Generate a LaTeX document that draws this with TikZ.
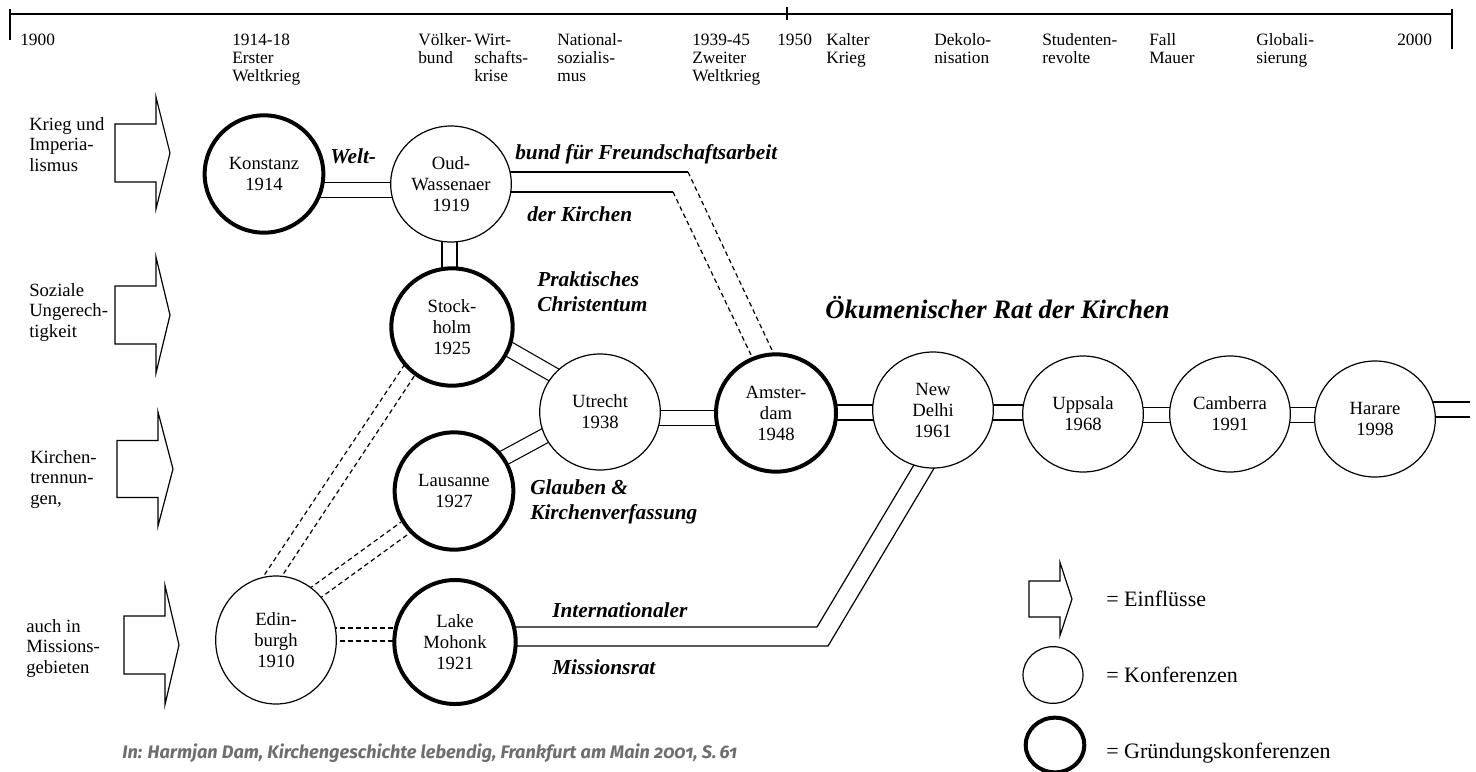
\documentclass[tikz,border=0pt]{standalone}
\usepackage{fontspec}
\setmainfont{Liberation Serif}
\newfontfamily\quellefont[Numbers=OldStyle]{Fira Sans}
\usetikzlibrary{shapes.geometric,calc,backgrounds}
\definecolor{quellgrau}{HTML}{6E6E6E}

\tikzset{
  konf/.style={ellipse, draw, fill=white, line width=0.9pt, inner sep=0pt,
    minimum width=90.5pt, minimum height=87pt, align=center,
    font=\fontsize{14}{15.75}\selectfont},
  gruendung/.style={konf, line width=3pt, minimum width=89pt, minimum height=88pt},
  strang/.style={double, line width=0.9pt, double distance=10.35pt},
  strich/.style={line width=0.9pt, dash pattern=on 3.5pt off 2.5pt},
  epoche/.style={anchor=base west, inner sep=0pt, font=\fontsize{13}{13.8}\selectfont},
  einfluss/.style={anchor=base west, inner sep=0pt, font=\fontsize{14}{15.4}\selectfont},
  bewegung/.style={anchor=base west, inner sep=0pt,
    font=\fontsize{16}{18.75}\selectfont\bfseries\itshape},
  legende/.style={anchor=base west, inner sep=0pt,
    font=\fontsize{16.5}{18}\selectfont},
}

% mehrzeiliger Text, Grundlinie der ersten Zeile
\newcommand{\zeilen}[1]{\begin{tabular}[t]{@{}l@{}}#1\end{tabular}}

% Blockpfeil: links, Kopf, Spitze, Mitte, halbe Schaftbreite, halbe Kopfbreite
\newcommand{\pfeil}[6]{%
  \draw[line width=0.9pt] (#1,{#4-#5}) -- (#2,{#4-#5}) -- (#2,{#4-#6}) -- (#3,#4)
    -- (#2,{#4+#6}) -- (#2,{#4+#5}) -- (#1,{#4+#5}) -- cycle;}

\begin{document}
\begin{tikzpicture}[x=0.75pt, y=-0.75pt]
\useasboundingbox (0,0) rectangle (1476,771);

% Zeitleiste
\draw[line width=1.1pt] (10,14) -- (1452,14);
\draw[line width=0.9pt] (10,9) -- (10,40);
\draw[line width=0.9pt] (1452,9) -- (1452,49);
\draw[line width=0.9pt] (787,7) -- (787,20);
\foreach \xpos/\txt [count=\i] in {20/1900, 232/{1914-18\\Erster\\Weltkrieg},
    418/{Völker-\\bund}, 474/{Wirt-\\schafts-\\krise}, 557/{National-\\sozialis-\\mus},
    692/{1939-45\\Zweiter\\Weltkrieg}, 777/1950, 826/{Kalter\\Krieg},
    934/{Dekolo-\\nisation}, 1042/{Studenten-\\revolte}, 1149/{Fall\\Mauer},
    1256/{Globali-\\sierung}, 1397/2000}
  \node[epoche] (epoche\i) at (\xpos,45) {\zeilen{\txt}};

% Einfluesse
\node[einfluss] (krieg) at (29,130) {\zeilen{Krieg und\\Imperia-\\lismus}};
\node[einfluss] (sozial) at (29,296) {\zeilen{Soziale\\Ungerech-\\tigkeit}};
\node[einfluss] (trennung) at (30,463) {\zeilen{Kirchen-\\trennun-\\gen,}};
\node[einfluss] (mission) at (26,632) {\zeilen{auch in\\Missions-\\gebieten}};
\pfeil{115}{156}{170}{153}{29}{56}
\pfeil{115}{156}{170}{315}{29}{58}
\pfeil{117}{158}{173}{469}{28.5}{57}
\pfeil{124}{165}{179}{645}{29}{59.5}

% Konferenzen
\node[gruendung] (konstanz) at (264,174) {Konstanz\\1914};
\node[konf] (oud) at (451,184) {Oud-\\Wassenaer\\1919};
\node[gruendung, minimum width=91pt] (stockholm) at (452,327) {Stock-\\holm\\1925};
\node[konf] (utrecht) at (600,412) {Utrecht\\1938};
\node[gruendung] (lausanne) at (454,491) {Lausanne\\1927};
\node[gruendung, minimum width=90pt] (amsterdam) at (776,413) {Amster-\\dam\\1948};
\node[konf] (delhi) at (933,410) {New\\Delhi\\1961};
\node[konf] (uppsala) at (1083,414) {Uppsala\\1968};
\node[konf] (camberra) at (1230,414) {Camberra\\1991};
\node[konf] (harare) at (1375,419) {Harare\\1998};
\node[konf, minimum height=96pt] (edinburgh) at (276,640) {Edin-\\burgh\\1910};
\node[gruendung, minimum width=91pt, minimum height=93pt] (mohonk) at (455,642) {Lake\\Mohonk\\1921};

\coordinate (wb1) at (688,172);
\coordinate (wb2) at (673,192);
\coordinate (im1) at (817,627);
\coordinate (im2) at (828,646);
\coordinate (ausblick) at (1470,409.5);

\begin{scope}[on background layer]
\draw[strang] ($(konstanz)+(0,16)$) -- ($(oud)+(0,6)$);
\draw[strang] ($(oud)+(-1.5,0)$) -- ($(stockholm)+(-2.5,0)$);
\draw[strang] ($(stockholm)+(4.5,-8)$) -- ($(utrecht)+(4.5,-8)$);
\draw[strang] ($(lausanne)+(-2.6,-4.7)$) -- ($(utrecht)+(-2.6,-4.7)$);
\draw[strang] ($(utrecht)+(0,6)$) -- ($(amsterdam)+(0,5)$);
\draw[strang] ($(amsterdam)+(0,-0.5)$) -- ($(delhi)+(0,2.5)$);
\draw[strang] ($(delhi)+(0,2.5)$) -- ($(uppsala)+(0,-1.5)$);
\draw[strang] ($(uppsala)+(0,1)$) -- ($(camberra)+(0,1)$);
\draw[strang] ($(camberra)+(0,1)$) -- ($(harare)+(0,-4)$);
\draw[strang] ($(harare)+(0,-9.5)$) -- (ausblick);
% Vorlaeufer (gestrichelt)
\draw[strich] ($(edinburgh)+(0,-12)$) -- ($(mohonk)+(0,-14)$);
\draw[strich] ($(edinburgh)+(0,1)$) -- ($(mohonk)+(0,-1)$);
\draw[strich] ($(edinburgh)+(-15.8,-58.8)$) -- ($(stockholm)+(-46.2,35.8)$);
\draw[strich] ($(edinburgh)+(3.2,-59.8)$) -- ($(stockholm)+(-36.2,46.8)$);
\draw[strich] ($(edinburgh)+(33,-51.1)$) -- ($(lausanne)+(-53,31.1)$);
\draw[strich] ($(edinburgh)+(43,-41.1)$) -- ($(lausanne)+(-43,41.1)$);
% Weltbund
\draw[line width=0.9pt] ($(oud)+(0,-12)$) -- (wb1);
\draw[strich] (wb1) -- ($(amsterdam)+(-0.5,-55.5)$);
\draw[line width=0.9pt] ($(oud)+(0,8)$) -- (wb2);
\draw[strich] (wb2) -- ($(amsterdam)+(-21.4,-50.6)$);
% Missionsrat
\draw[line width=0.9pt] ($(mohonk)+(0,-15)$) -- (im1) -- ($(delhi)+(-17.9,52.9)$);
\draw[line width=0.9pt] ($(mohonk)+(0,4)$) -- (im2) -- ($(delhi)+(3,55)$);
\end{scope}

% Bewegungen
\node[bewegung] (welt) at (330,163) {Welt-};
\node[bewegung] (freundschaft) at (515,159) {bund für Freundschaftsarbeit};
\node[bewegung] (derkirchen) at (527,221) {der Kirchen};
\node[bewegung] (praktisch) at (537,286) {\zeilen{Praktisches\\Christentum}};
\node[bewegung] (glauben) at (530,494) {\zeilen{Glauben \&\\Kirchenverfassung}};
\node[bewegung] (international) at (552,617) {Internationaler};
\node[bewegung] (missionsrat) at (552,674) {Missionsrat};
\node[bewegung, font=\fontsize{20}{24}\selectfont\bfseries\itshape] (oekumene) at (825,318) {Ökumenischer Rat der Kirchen};

% Legende
\pfeil{1029}{1060}{1072}{599}{18}{36.5}
\node[legende] (leg1) at (1106,606) {= Einflüsse};
\node[konf, minimum width=45pt, minimum height=42.5pt] (legkonf) at (1053,675) {};
\node[legende] (leg2) at (1106,682) {= Konferenzen};
\node[gruendung, minimum width=44pt, minimum height=41pt] (leggruend) at (1055,745) {};
\node[legende] (leg3) at (1106,758) {= Gründungskonferenzen};

% Quelle
\node[anchor=base west, inner sep=0pt, text=quellgrau,
  font=\quellefont\bfseries\itshape\fontsize{13.6}{15}\selectfont] (quelle) at (122,758)
  {In: Harmjan Dam, Kirchengeschichte lebendig, Frankfurt am Main 2001, S.\,61};
\end{tikzpicture}
\end{document}
